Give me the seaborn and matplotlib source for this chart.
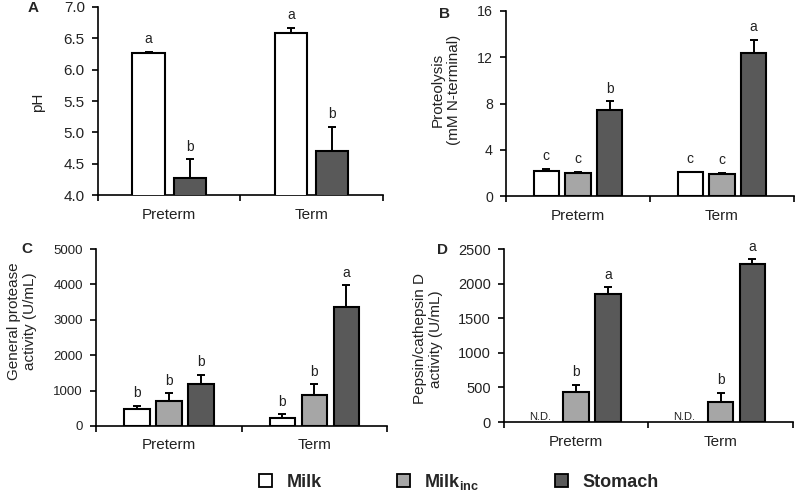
import pandas as pd
import matplotlib
matplotlib.use("Agg")
import matplotlib.pyplot as plt
from matplotlib.patches import Patch
import seaborn as sns

# datos
groups = ["Preterm", "Term"]
samples = ["Milk", "Milk_inc", "Stomach"]

ph_mean = {"Milk": [6.27, 6.59], "Stomach": [4.28, 4.70]}
ph_err = {"Milk": [0.02, 0.08], "Stomach": [0.29, 0.39]}
ph_let = {"Milk": ["a", "a"], "Stomach": ["b", "b"]}

prot_mean = {"Milk": [2.2, 2.05], "Milk_inc": [2.0, 1.95], "Stomach": [7.4, 12.4]}
prot_err = {"Milk": [0.15, 0.05], "Milk_inc": [0.08, 0.07], "Stomach": [0.8, 1.1]}
prot_let = {"Milk": ["c", "c"], "Milk_inc": ["c", "c"], "Stomach": ["b", "a"]}

gen_mean = {"Milk": [490, 225], "Milk_inc": [715, 885], "Stomach": [1200, 3365]}
gen_err = {"Milk": [85, 105], "Milk_inc": [210, 295], "Stomach": [245, 615]}
gen_let = {"Milk": ["b", "b"], "Milk_inc": ["b", "b"], "Stomach": ["b", "a"]}

pep_mean = {"Milk": [0, 0], "Milk_inc": [440, 290], "Stomach": [1850, 2280]}
pep_err = {"Milk": [0, 0], "Milk_inc": [100, 135], "Stomach": [100, 70]}
pep_let = {"Milk": ["N.D.", "N.D."], "Milk_inc": ["b", "b"], "Stomach": ["a", "a"]}

colors = {"Milk": "white", "Milk_inc": "#a6a6a6", "Stomach": "#595959"}


def to_df(mean, err, let):
    rows = []
    for s in mean:
        for i, g in enumerate(groups):
            rows.append({"group": g, "sample": s, "value": mean[s][i],
                         "err": err[s][i], "letter": let[s][i]})
    return pd.DataFrame(rows)


sns.set_style("ticks")
plt.rcParams["font.family"] = ["Liberation Sans", "DejaVu Sans"]
plt.rcParams["mathtext.fontset"] = "custom"
plt.rcParams["mathtext.rm"] = "Liberation Sans:bold"


def panel(ax, df, hue_order, width, gap, ylim, yticks, fmt, tsize, ylabel, lx, ly):
    sns.barplot(data=df, x="group", y="value", hue="sample", order=groups,
                hue_order=hue_order, palette=colors, edgecolor="black",
                linewidth=1.5, width=width, gap=gap, errorbar=None,
                legend=False, ax=ax, zorder=3)
    for cont, s in zip(ax.containers, hue_order):
        sub = df[df["sample"] == s].set_index("group")
        for bar in cont:
            x = bar.get_x() + bar.get_width() / 2
            g = groups[int(round(x))]
            v, e, l = sub.loc[g, ["value", "err", "letter"]]
            if v == 0:
                bar.set_visible(False)
                ax.text(x - 0.03, ylim[0], l, ha="center", va="bottom",
                        fontsize=8, color="#222222")
                continue
            ax.errorbar(x, v, yerr=[[0], [e]], fmt="none", ecolor="black",
                        elinewidth=1.4, capsize=3, capthick=1.4, zorder=2)
            ax.annotate(l, (x, v + e), xytext=(0, 4), textcoords="offset points",
                        ha="center", va="bottom", fontsize=10, color="#222222")
    ax.set_xlim(-0.5, 1.5)
    ax.set_ylim(*ylim)
    ax.set_yticks(yticks)
    ax.set_yticklabels([fmt.format(t) for t in yticks], fontsize=tsize, color="#222222")
    # separadores entre grupos como ticks mayores, nombres en ticks menores
    ax.set_xticks([-0.5, 0.5, 1.5])
    ax.set_xticklabels(["", "", ""])
    ax.set_xticks([0, 1], minor=True)
    ax.set_xticklabels(groups, minor=True, fontsize=11, color="#222222")
    ax.tick_params(axis="x", which="major", bottom=True, length=4.5, width=1.2, color="black")
    ax.tick_params(axis="x", which="minor", bottom=True, length=0, pad=9)
    ax.tick_params(axis="y", length=4.5, width=1.2, color="black", pad=5)
    ax.set_xlabel("")
    ax.set_ylabel(ylabel, fontsize=11, color="#222222", va="center", ha="center")
    ax.yaxis.set_label_coords(lx, ly)
    for sp in ["top", "right"]:
        ax.spines[sp].set_visible(False)
    for sp in ["left", "bottom"]:
        ax.spines[sp].set_linewidth(1.2)
        ax.spines[sp].set_color("black")


fig = plt.figure(figsize=(8, 4.99), dpi=100)
axA = fig.add_axes([0.1225, 0.609, 0.356, 0.377])
axB = fig.add_axes([0.6325, 0.607, 0.36, 0.371])
axC = fig.add_axes([0.12, 0.1463, 0.364, 0.3547])
axD = fig.add_axes([0.63, 0.1543, 0.361, 0.3467])

panel(axA, to_df(ph_mean, ph_err, ph_let), ["Milk", "Stomach"], 0.58, 0.22,
      (4, 7), [4.0, 4.5, 5.0, 5.5, 6.0, 6.5, 7.0], "{:.1f}", 11, "pH", -0.212, 0.495)
panel(axB, to_df(prot_mean, prot_err, prot_let), samples, 0.66, 0.2,
      (0, 16), [0, 4, 8, 12, 16], "{:d}", 10.2, "Proteolysis\n(mM N-terminal)", -0.21, 0.575)
panel(axC, to_df(gen_mean, gen_err, gen_let), samples, 0.66, 0.2,
      (0, 5000), [0, 1000, 2000, 3000, 4000, 5000], "{:d}", 9.5,
      "General protease\nactivity (U/mL)", -0.254, 0.59)
panel(axD, to_df(pep_mean, pep_err, pep_let), samples, 0.66, 0.2,
      (0, 2500), [0, 500, 1000, 1500, 2000, 2500], "{:d}", 10.5,
      "Pepsin/cathepsin D\nactivity (U/mL)", -0.263, 0.48)

for lab, x, y in [("A", 33, 8), ("B", 444, 14), ("C", 27, 249), ("D", 442, 250)]:
    fig.text(x / 800, 1 - y / 499, lab, fontsize=11, fontweight="bold",
             ha="center", va="center")

handles = [Patch(facecolor=colors[s], edgecolor="black", linewidth=1.3) for s in samples]
labels = ["Milk", r"Milk$_{\mathrm{inc}}$", "Stomach"]
fig.legend(handles, labels, loc="center", bbox_to_anchor=(459 / 800, 1 - 482 / 499),
           ncol=3, frameon=False, handlelength=0.7, handleheight=0.7,
           handletextpad=0.8, columnspacing=4.2,
           prop={"size": 13, "weight": "bold"})

fig.savefig("out.png", dpi=100)
